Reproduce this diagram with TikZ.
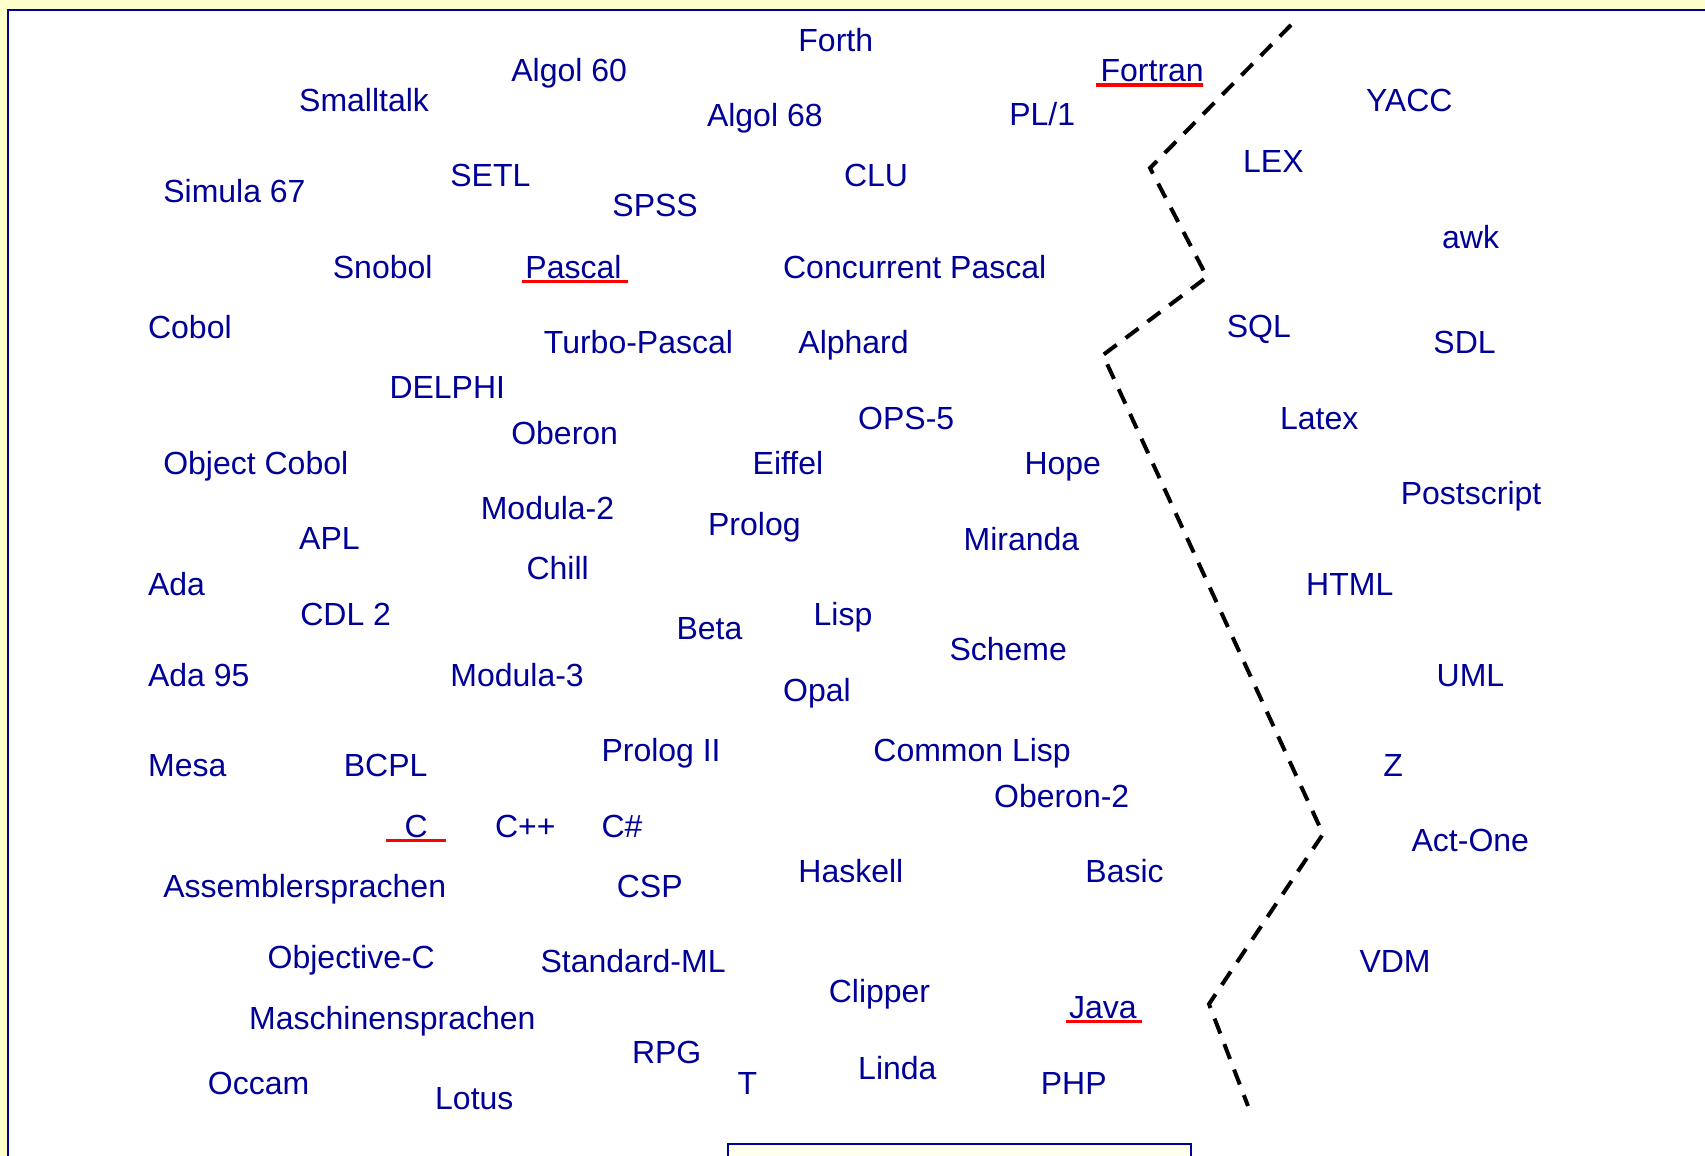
\documentclass[tikz,border=0pt]{standalone}
\usepackage{fontspec}
\setmainfont{Liberation Sans}
\definecolor{langblue}{HTML}{000099}
\definecolor{pagebg}{HTML}{FFFFCC}
\definecolor{boxbg}{HTML}{FFFFEE}
\definecolor{ulred}{HTML}{FF0000}
\tikzset{
  lang/.style={anchor=base west, inner sep=0pt, text=langblue,
    font=\fontsize{32}{38}\selectfont},
  uline/.style={draw=ulred, line width=3.5pt},
  divider/.style={draw=black, line width=4pt, dash pattern=on 16pt off 11.3pt},
  frame/.style={draw=langblue, line width=2pt}
}
\begin{document}
\begin{tikzpicture}[x=1pt,y=-1pt]
  \useasboundingbox (0,0) rectangle (1705,1156);
  \fill[pagebg] (0,0) rectangle (1705,1156);
  \path[frame, fill=white] (8,10) rectangle (1712,1164);
  \path[frame, fill=boxbg] (728,1144) rectangle (1191,1164);

  % languages
  \node[lang] (forth) at (798.2,51.9) {Forth};
  \node[lang] (algol60) at (511.1,81.3) {Algol 60};
  \node[lang] (fortran) at (1100.4,81.3) {Fortran};
  \node[lang] (smalltalk) at (299.0,111.7) {Smalltalk};
  \node[lang] (algol68) at (706.8,126.5) {Algol 68};
  \node[lang] (pl1) at (1009.1,125.4) {PL/1};
  \node[lang] (yacc) at (1365.8,111.7) {YACC};
  \node[lang] (lex) at (1242.9,172.6) {LEX};
  \node[lang] (simula) at (163.1,202.6) {Simula 67};
  \node[lang] (setl) at (450.2,186.8) {SETL};
  \node[lang] (spss) at (612.2,216.7) {SPSS};
  \node[lang] (clu) at (843.8,186.8) {CLU};
  \node[lang] (awk) at (1441.9,248.8) {awk};
  \node[lang] (snobol) at (332.7,278.7) {Snobol};
  \node[lang] (pascal) at (525.2,278.7) {Pascal};
  \node[lang] (cpascal) at (782.9,278.7) {Concurrent Pascal};
  \node[lang] (cobol) at (147.9,338.5) {Cobol};
  \node[lang] (sql) at (1226.6,337.9) {SQL};
  \node[lang] (turbo) at (543.7,353.7) {Turbo-Pascal};
  \node[lang] (alphard) at (798.2,353.7) {Alphard};
  \node[lang] (sdl) at (1433.2,353.7) {SDL};
  \node[lang] (delphi) at (389.3,398.3) {DELPHI};
  \node[lang] (latex) at (1279.9,429.8) {Latex};
  \node[lang] (ops5) at (858.0,429.3) {OPS-5};
  \node[lang] (oberon) at (511.1,444.0) {Oberon};
  \node[lang] (ocobol) at (163.1,474.4) {Object Cobol};
  \node[lang] (eiffel) at (752.5,474.4) {Eiffel};
  \node[lang] (hope) at (1024.3,474.4) {Hope};
  \node[lang] (postscript) at (1400.6,504.9) {Postscript};
  \node[lang] (modula2) at (480.6,519.0) {Modula-2};
  \node[lang] (prolog) at (707.9,535.3) {Prolog};
  \node[lang] (apl) at (299.0,549.5) {APL};
  \node[lang] (miranda) at (963.4,550.5) {Miranda};
  \node[lang] (chill) at (526.3,579.9) {Chill};
  \node[lang] (ada) at (147.9,595.1) {Ada};
  \node[lang] (html) at (1306.0,595.1) {HTML};
  \node[lang] (cdl2) at (300.1,625.6) {CDL 2};
  \node[lang] (lisp) at (813.4,625.6) {Lisp};
  \node[lang] (beta) at (676.4,639.7) {Beta};
  \node[lang] (scheme) at (949.3,660.4) {Scheme};
  \node[lang] (ada95) at (147.9,686.5) {Ada 95};
  \node[lang] (modula3) at (450.2,686.5) {Modula-3};
  \node[lang] (uml) at (1436.5,686.5) {UML};
  \node[lang] (opal) at (782.9,701.7) {Opal};
  \node[lang] (prolog2) at (601.3,761.5) {Prolog II};
  \node[lang] (clisp) at (873.2,761.5) {Common Lisp};
  \node[lang] (mesa) at (147.9,776.7) {Mesa};
  \node[lang] (bcpl) at (343.6,776.7) {BCPL};
  \node[lang] (z) at (1383.2,776.7) {Z};
  \node[lang] (oberon2) at (993.9,807.2) {Oberon-2};
  \node[lang] (c) at (404.5,837.6) {C};
  \node[lang] (cpp) at (494.8,837.6) {C++};
  \node[lang] (csharp) at (601.3,837.6) {C\#};
  \node[lang] (actone) at (1411.4,851.8) {Act-One};
  \node[lang] (asm) at (163.1,897.4) {Assemblersprachen};
  \node[lang] (csp) at (616.6,897.4) {CSP};
  \node[lang] (haskell) at (798.2,882.2) {Haskell};
  \node[lang] (basic) at (1085.2,882.2) {Basic};
  \node[lang] (objc) at (267.5,968.1) {Objective-C};
  \node[lang] (sml) at (540.4,972.5) {Standard-ML};
  \node[lang] (vdm) at (1359.3,972.5) {VDM};
  \node[lang] (clipper) at (828.6,1002.9) {Clipper};
  \node[lang] (java) at (1068.9,1018.1) {Java};
  \node[lang] (masch) at (249.0,1029.0) {Maschinensprachen};
  \node[lang] (rpg) at (631.8,1063.8) {RPG};
  \node[lang] (t) at (737.3,1094.3) {T};
  \node[lang] (linda) at (858.0,1079.0) {Linda};
  \node[lang] (php) at (1040.6,1094.3) {PHP};
  \node[lang] (occam) at (207.7,1094.3) {Occam};
  \node[lang] (lotus) at (435.0,1109.5) {Lotus};

  % red underlines
  \draw[uline] ([xshift=-4pt,yshift=-3.5pt]fortran.base west) -- ([xshift=-1pt,yshift=-3.5pt]fortran.base east);
  \draw[uline] ([xshift=-3pt,yshift=-3pt]pascal.base west) -- ([xshift=6pt,yshift=-3pt]pascal.base east);
  \draw[uline] ([xshift=-18.5pt,yshift=-3pt]c.base west) -- ([xshift=18pt,yshift=-3pt]c.base east);
  \draw[uline] ([xshift=-3pt,yshift=-3.5pt]java.base west) -- ([xshift=5pt,yshift=-3.5pt]java.base east);

  % dashed dividing line
  \coordinate (d1) at (1291,25);
  \coordinate (d2) at (1150,168);
  \coordinate (d3) at (1207,277);
  \coordinate (d4) at (1103,355);
  \coordinate (d5) at (1323,834);
  \coordinate (d6) at (1209,1004);
  \coordinate (d7) at (1248,1106);
  \draw[divider] (d1) -- (d2) -- (d3) -- (d4) -- (d5) -- (d6) -- (d7);
\end{tikzpicture}
\end{document}
